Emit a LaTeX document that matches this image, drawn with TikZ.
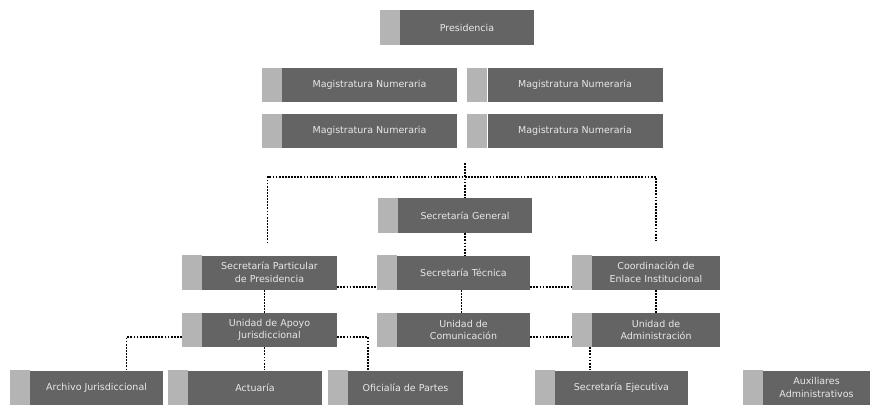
\documentclass[tikz,border=0pt]{standalone}
\usepackage{fontspec}
\setmainfont{DejaVu Sans}
\usepackage{tikz}
\usetikzlibrary{calc,positioning}
\definecolor{oscuro}{RGB}{100,100,100}
\definecolor{claro}{RGB}{180,180,180}
\definecolor{letra}{RGB}{232,232,232}
\tikzset{
  caja/.style={
    rectangle,
    fill=oscuro,
    text=letra,
    minimum width=134pt,
    minimum height=34pt,
    inner sep=2pt,
    align=center,
    font=\fontsize{9.5}{12.5}\selectfont,
    append after command={\pgfextra{\fill[claro] (\tikzlastnode.north west) rectangle ([xshift=-20pt]\tikzlastnode.south west);}}},
  ancha/.style={caja, minimum width=175pt},
  enlace/.style={draw, line width=1.5pt, dash pattern=on 1.8pt off 1.3pt},
}
\begin{document}
\begin{tikzpicture}
[x=1pt, y=-1pt]
    \useasboundingbox (0,0) rectangle (882,405);

    \node [caja, minimum height=35pt](pres) at (467,27.5){Presidencia};
    \node [ancha](mag1) at (369.5,85){Magistratura Numeraria};
    \node [ancha](mag2) at (575,85){Magistratura Numeraria};
    \node [ancha](mag3) at (369.5,131){Magistratura Numeraria};
    \node [ancha](mag4) at (575,131){Magistratura Numeraria};

    \node [caja, minimum height=35pt](sg) at (465,215.5){Secretaría General};

    \node [caja, minimum width=135pt](spp) at (269.5,272.5){Secretaría Particular\\de Presidencia};
    \node [caja, minimum width=133pt](stec) at (463.5,272.5){Secretaría Técnica};
    \node [caja, minimum width=128pt](coord) at (656,272.5){Coordinación de\\Enlace Institucional};

    \node [caja, minimum width=135pt](uaj) at (269.5,330){Unidad de Apoyo\\Jurisdiccional};
    \node [caja, minimum width=133pt](ucom) at (463.5,330){Unidad de\\Comunicación};
    \node [caja, minimum width=128pt](uadm) at (656,330){Unidad de\\Administración};

    \node [caja, minimum width=133pt](arch) at (96.5,387.5){Archivo Jurisdiccional};
    \node [caja](act) at (255,387.5){Actuaría};
    \node [caja, minimum width=115pt](ofi) at (405.5,387.5){Oficialía de Partes};
    \node [caja, minimum width=133pt](secej) at (621.5,387.5){Secretaría Ejecutiva};
    \node [caja, minimum width=107pt](aux) at (816.5,387.5){Auxiliares\\Administrativos};

    % lineas punteadas
    \coordinate (tope) at (465,163);
    \coordinate (bus) at (465,177);
    \draw[enlace] (tope) -- (sg.north);
    \draw[enlace, shorten <=12pt, shorten >=15pt] ([xshift=-2pt]spp.north) |- (bus) -| (coord.north);
    \draw[enlace] (sg.south) -- (sg.south |- stec.north);

    \draw[enlace] ([yshift=-14.5pt]spp.east) -- ([xshift=-20pt,yshift=-14.5pt]stec.west);
    \draw[enlace] ([yshift=-14.5pt]stec.east) -- ([xshift=-20pt,yshift=-14.5pt]coord.west);
    \draw[enlace] ([xshift=-5pt]spp.south) -- ([xshift=-5pt]uaj.north);
    \draw[enlace] ([xshift=-2pt]stec.south) -- ([xshift=-2pt]ucom.north);
    \draw[enlace] (coord.south) -- (uadm.north);
    \draw[enlace] ([yshift=-7pt]ucom.east) -- ([xshift=-20pt,yshift=-7pt]uadm.west);

    \draw[enlace] ([xshift=-20pt,yshift=-7pt]uaj.west) -| ([xshift=30pt]arch.north);
    \draw[enlace] ([xshift=-5pt]uaj.south) -- ([xshift=-5pt]uaj.south |- act.north);
    \draw[enlace] ([yshift=-7pt]uaj.east) -| ([xshift=20pt]ofi.north west);
    \draw[enlace] ([xshift=-2pt]uadm.south west) -- ([xshift=-2pt]uadm.south west |- secej.north);

\end{tikzpicture}
\end{document}
